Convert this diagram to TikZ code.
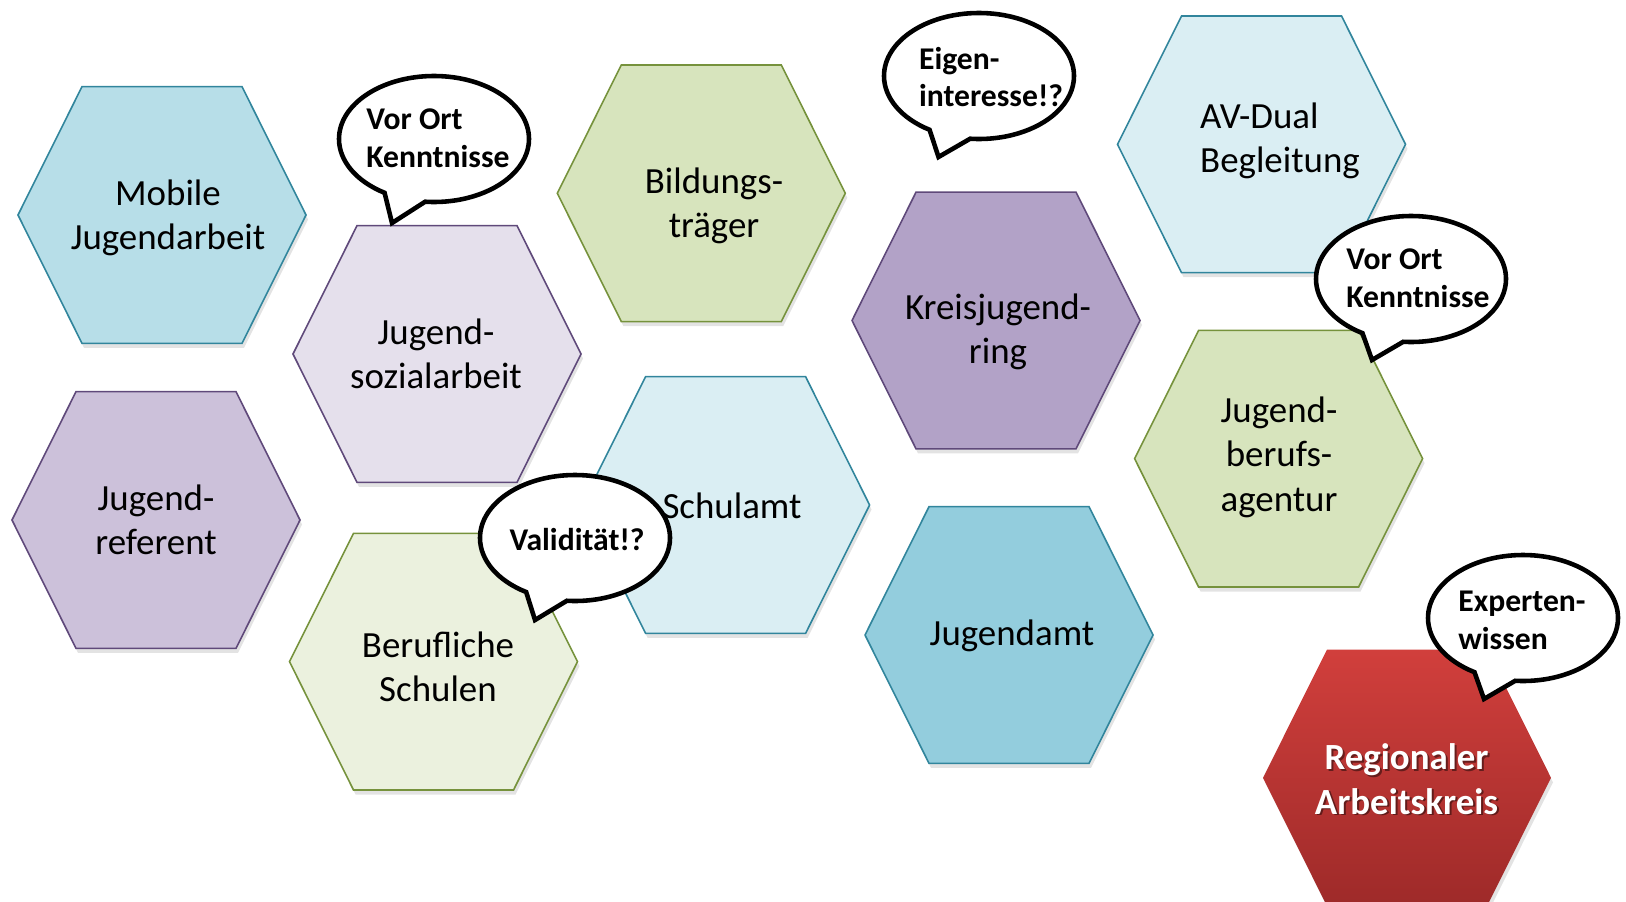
\documentclass[tikz,border=0pt]{standalone}
\usepackage{fontspec}
\setmainfont{Carlito}
\usepackage{tikz}
\usetikzlibrary{shapes.callouts,shadows}

% Office-like theme tints
\definecolor{aquaLine}{HTML}{31859C}
\definecolor{aquaPale}{HTML}{DAEEF3}
\definecolor{aquaLight}{HTML}{B7DEE8}
\definecolor{aquaMid}{HTML}{93CDDD}
\definecolor{lilaLine}{HTML}{5F497A}
\definecolor{lilaPale}{HTML}{E5E0EC}
\definecolor{lilaLight}{HTML}{CCC1DA}
\definecolor{lilaMid}{HTML}{B2A2C7}
\definecolor{oliveLine}{HTML}{76923C}
\definecolor{olivePale}{HTML}{EBF1DE}
\definecolor{oliveLight}{HTML}{D7E4BD}
\definecolor{redTop}{HTML}{D13F3C}
\definecolor{redBottom}{HTML}{9E2A29}

\begin{document}
\begin{tikzpicture}[
    x=0.2mm, y=-0.2mm,
    hexagon/.style={insert path={(-144,0) -- (-80,-128.3) -- (80,-128.3) -- (144,0) -- (80,128.3) -- (-80,128.3) -- cycle}},
    cell/.style={line width=0.9pt, line join=miter, drop shadow={shadow xshift=0.4mm, shadow yshift=-0.9mm, opacity=0.22}},
    celltext/.style={align=center, inner sep=0pt, font=\fontsize{21}{25.3}\selectfont},
    boldtext/.style={celltext, font=\fontsize{21}{25.3}\selectfont\bfseries},
    bubble/.style={ellipse callout, draw=black, fill=white, line width=2.6pt, line join=miter,
        minimum width=38mm, minimum height=25.2mm, callout pointer arc=26, inner sep=0pt},
    notetext/.style={align=left, inner sep=0pt, font=\fontsize{18}{21.5}\selectfont\bfseries}
]
    \useasboundingbox (0,0) rectangle (1626,902);

    % Hexagon cells
    \draw[cell, fill=aquaLight, draw=aquaLine, shift={(162,215)}] [hexagon];
    \node[celltext] (mobile) at (168,218) {Mobile\\Jugendarbeit};

    \draw[cell, fill=lilaPale, draw=lilaLine, shift={(437,354)}] [hexagon];
    \node[celltext] (jsa) at (436,354) {Jugend-\\sozialarbeit};

    \draw[cell, fill=lilaLight, draw=lilaLine, shift={(156,520)}] [hexagon];
    \node[celltext] (jref) at (156,520) {Jugend-\\referent};

    \draw[cell, fill=olivePale, draw=oliveLine, shift={(433.5,661.7)}] [hexagon];
    \node[celltext] (beruf) at (438,667) {Berufliche\\Schulen};

    \draw[cell, fill=aquaPale, draw=aquaLine, shift={(725.6,505)}] [hexagon];
    \node[celltext] (schulamt) at (732,506) {Schulamt};

    \draw[cell, fill=oliveLight, draw=oliveLine, shift={(701.3,193.3)}] [hexagon];
    \node[celltext] (bildung) at (714,206) {Bildungs-\\träger};

    \draw[cell, fill=lilaMid, draw=lilaLine, shift={(996,320.5)}] [hexagon];
    \node[celltext] (kjr) at (998,332) {Kreisjugend-\\ring};

    \draw[cell, fill=aquaPale, draw=aquaLine, shift={(1261.5,144.3)}] [hexagon];
    \node[celltext, align=left] (avdual) at (1280,141) {AV-Dual\\Begleitung};

    \draw[cell, fill=oliveLight, draw=oliveLine, shift={(1278.6,458.7)}] [hexagon];
    \node[celltext] (jba) at (1279,457) {Jugend-\\berufs-\\agentur};

    \draw[cell, fill=aquaMid, draw=aquaLine, shift={(1009,635)}] [hexagon];
    \node[celltext] (jamt) at (1012,636) {Jugendamt};

    % Central cell with shaded fill
    \draw[cell, draw=none, top color=redTop, bottom color=redBottom, shift={(1407,777.8)}] [hexagon];
    \node[boldtext, text=black, text opacity=0.45] (rak-shade) at (1408.5,780.5) {Regionaler\\Arbeitskreis};
    \node[boldtext, text=white] (rak) at (1406.5,779) {Regionaler\\Arbeitskreis};

    % Speech bubbles
    \node[bubble, callout absolute pointer={(392,223)}] (note-jsa) at (434,139) {};
    \node[notetext] (note-jsa-text) at (438,138) {Vor Ort\\Kenntnisse};

    \node[bubble, callout absolute pointer={(938.5,157)}] (note-kjr) at (979,76) {};
    \node[notetext] (note-kjr-text) at (991,77) {Eigen-\\interesse!?};

    \node[bubble, callout absolute pointer={(1372,360)}] (note-jba) at (1411,279) {};
    \node[notetext] (note-jba-text) at (1418,278) {Vor Ort\\Kenntnisse};

    \node[bubble, callout absolute pointer={(535,620)}] (note-beruf) at (575,538) {};
    \node[notetext] (note-beruf-text) at (577,540) {Validität!?};

    \node[bubble, callout absolute pointer={(1484,699)}] (note-rak) at (1523,618) {};
    \node[notetext] (note-rak-text) at (1522,620) {Experten-\\wissen};
\end{tikzpicture}
\end{document}
